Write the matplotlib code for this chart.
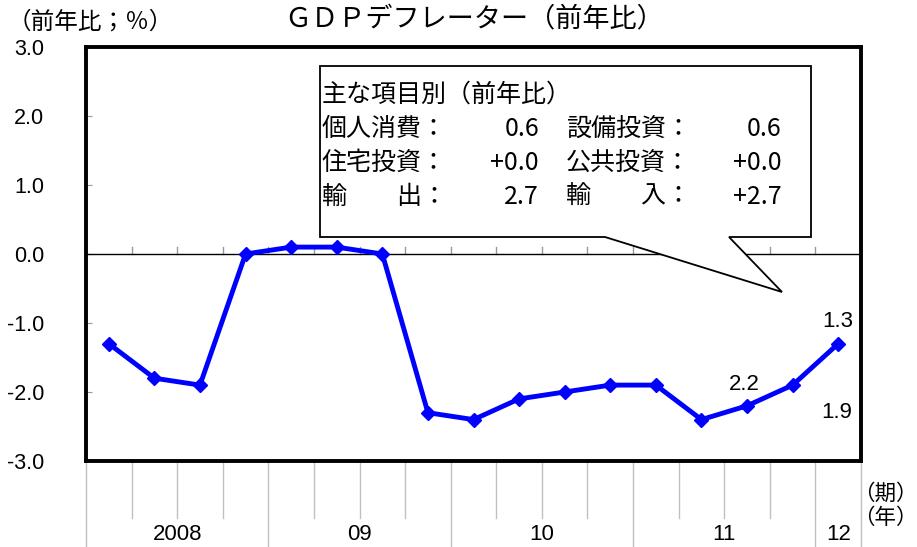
import numpy as np
import matplotlib
matplotlib.use('Agg')
import matplotlib.pyplot as plt
from matplotlib.patches import Polygon
from matplotlib.transforms import blended_transform_factory

plt.rcParams['font.family'] = ['Noto Sans CJK JP', 'DejaVu Sans']

# data: GDP deflator, y/y %, 2008 Q1 - 2012 Q1
values = [-1.3, -1.8, -1.9, 0.0, 0.1, 0.1, 0.0, -2.3, -2.4, -2.1,
          -2.0, -1.9, -1.9, -2.4, -2.2, -1.9, -1.3]
years = ['2008', '09', '10', '11', '12']
quarters_per_year = [4, 4, 4, 4, 1]
yticks = [3.0, 2.0, 1.0, 0.0, -1.0, -2.0, -3.0]

box_title = '主な項目別（前年比）'
box_rows = [
    ('個人消費：', '0.6', '設備投資：', '0.6'),
    ('住宅投資：', '+0.0', '公共投資：', '+0.0'),
    ('輸　　出：', '2.7', '輸　　入：', '+2.7'),
]

W, H = 917, 547
fig = plt.figure(figsize=(W / 100, H / 100), dpi=100)

def fx(px):
    return px / W

def fy(py):
    return 1 - py / H

L, R, T, B = 86, 861, 47, 461
ax = fig.add_axes([fx(L), fy(B), fx(R) - fx(L), fy(T) - fy(B)])

n = len(values)
x = np.arange(n)
ax.plot(x, values, color='#0000FF', lw=3.5, marker='D', ms=7, zorder=5)
ax.set_xlim(-0.5, n - 0.5)
ax.set_ylim(-3, 3)

# zero line with small upward ticks at quarter boundaries
ax.axhline(0, color='black', lw=1.0, zorder=2)
for b in np.arange(0.5, n - 0.5, 1.0):
    ax.plot([b, b], [0, 0.1], color='#999999', lw=1.0, zorder=1)

num_font = ['Liberation Sans', 'DejaVu Sans']
ax.set_yticks(yticks)
ax.set_yticklabels(['%.1f' % v for v in yticks], fontsize=15.5, family=num_font)
ax.tick_params(axis='y', direction='in', length=4, color='#999999', pad=30)
ax.set_xticks([])
for s in ax.spines.values():
    s.set_linewidth(2.8)
    s.set_color('black')

# category table lines under the plot
trans = blended_transform_factory(ax.transData, ax.transAxes)
y_bottom = (B - H) / (B - T)
y_short = (B - 518) / (B - T)
starts = np.concatenate([[0], np.cumsum(quarters_per_year)]) - 0.5
for b in np.arange(-0.5, n, 1.0):
    is_year = np.any(np.isclose(starts, b))
    yend = y_bottom if is_year else y_short
    ax.plot([b, b], [0, yend], color='#c0c0c0', lw=1.0,
            transform=trans, clip_on=False)
for i, yr in enumerate(years):
    cx = (starts[i] + starts[i + 1]) / 2
    ax.text(cx, (B - 535) / (B - T), yr, transform=trans, ha='center',
            va='center', fontsize=16, family=num_font)

fig.text(fx(885), fy(494), '（期）', ha='center', va='center', fontsize=15.5)
fig.text(fx(885), fy(518), '（年）', ha='center', va='center', fontsize=15.5)

# data labels
lab_kw = dict(textcoords='offset points', ha='center', va='center',
              fontsize=16, family=num_font)
ax.annotate('%.1f' % abs(values[-1]), (n - 1, values[-1]), xytext=(0, 16), **lab_kw)
ax.annotate('%.1f' % abs(values[-3]), (n - 3, values[-3]), xytext=(-2, 15), **lab_kw)
ax.annotate('%.1f' % abs(values[-2]), (n - 2, values[-2]), xytext=(32, -20), **lab_kw)

# titles
fig.text(fx(474), fy(20), 'ＧＤＰデフレーター（前年比）', ha='center',
         va='center', fontsize=19.5)
fig.text(fx(8), fy(22), '（前年比；％）', ha='left', va='center', fontsize=17)

# callout box
pts = [(320, 66), (811, 66), (811, 237), (729, 237), (782, 292),
       (605, 237), (320, 237)]
callout = Polygon([(fx(px), fy(py)) for px, py in pts], closed=True,
                  transform=fig.transFigure, facecolor='white',
                  edgecolor='black', lw=1.3, zorder=10)
fig.patches.append(callout)

fs = 18
fig.text(fx(322), fy(95), box_title, ha='left', va='center', fontsize=fs, zorder=11)
for i, (l1, v1, l2, v2) in enumerate(box_rows):
    yy = fy(129 + 34 * i)
    fig.text(fx(322), yy, l1, ha='left', va='center', fontsize=fs, zorder=11)
    fig.text(fx(539), yy, v1, ha='right', va='center', fontsize=fs, zorder=11)
    fig.text(fx(566), yy, l2, ha='left', va='center', fontsize=fs, zorder=11)
    fig.text(fx(782), yy, v2, ha='right', va='center', fontsize=fs, zorder=11)

fig.savefig('out.png', dpi=100)
